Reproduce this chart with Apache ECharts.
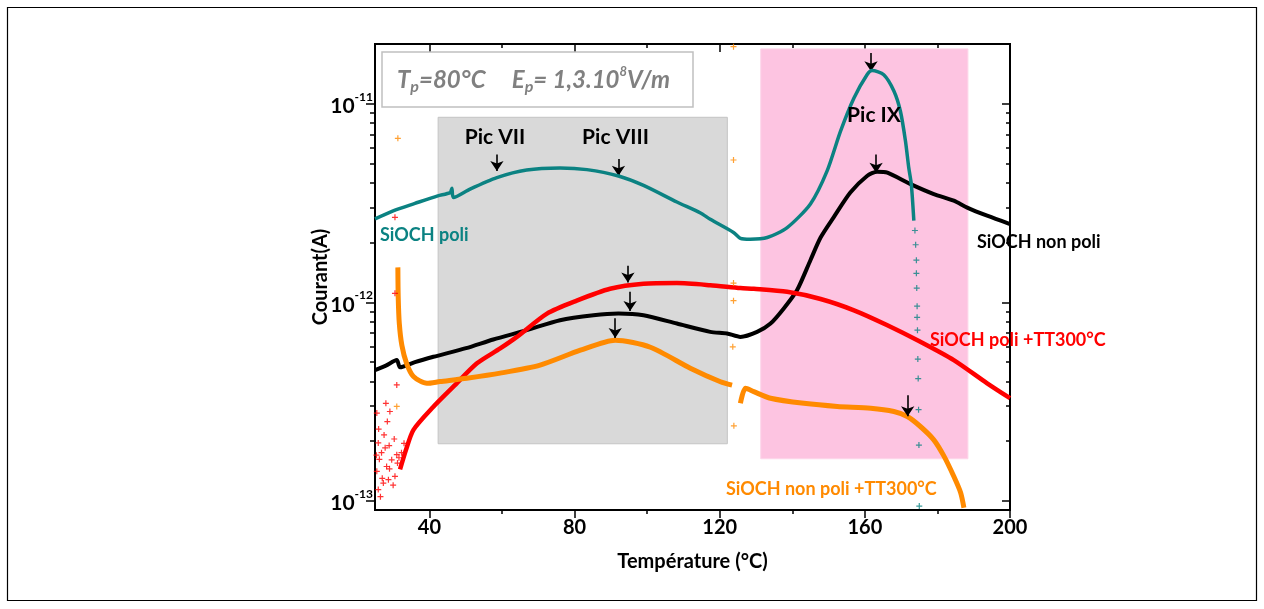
<!DOCTYPE html>
<html><head><meta charset="utf-8">
<script src="https://cdn.jsdelivr.net/npm/echarts@6/dist/echarts.min.js"></script>
<style>html,body{margin:0;padding:0;background:#fff}#c{width:1264px;height:609px}</style>
</head><body><div id="c"></div>
<script>
// ---------- axis ticks ----------
const xTickLabels = [40, 80, 120, 160, 200];
const xMinorTicks = [60, 100, 140, 180];
const yTickValues = [1e-13, 1e-12, 1e-11];
const yMinorTicks = [2e-13,3e-13,4e-13,5e-13,6e-13,7e-13,8e-13,9e-13,2e-12,3e-12,4e-12,5e-12,6e-12,7e-12,8e-12,9e-12];
const xMin = 25, xMax = 200, yMin = 9e-14, yMax = 2e-11;

// ---------- SiOCH poli (teal) ----------
const poliT = [25, 30.0, 36, 42.3, 45.7, 46.2, 46.6, 51.2, 58.6, 66.8, 76.0, 83.4, 92.1, 99.0, 108.2, 114.7, 117.4, 123.8, 125.7, 128.4, 133.1, 138.6, 145.0, 149.6, 153.3, 157.0, 160.6, 162.0, 165.2, 168.0, 169.8, 171.2, 172.1, 172.8, 173.5];
const poliI = [2.63e-12, 2.89e-12, 3.15e-12, 3.44e-12, 3.57e-12, 3.76e-12, 3.37e-12, 3.72e-12, 4.25e-12, 4.64e-12, 4.75e-12, 4.66e-12, 4.33e-12, 3.88e-12, 3.20e-12, 2.82e-12, 2.62e-12, 2.25e-12, 2.10e-12, 2.08e-12, 2.12e-12, 2.38e-12, 3.13e-12, 4.59e-12, 7.28e-12, 1.07e-11, 1.40e-11, 1.47e-11, 1.40e-11, 1.16e-11, 9.17e-12, 6.48e-12, 4.76e-12, 3.94e-12, 2.58e-12];
const poliTailT = [173.8, 174.0, 174.2, 174.2, 174.3, 174.4, 174.4, 174.5, 174.6, 174.7, 174.8, 174.9, 175.0];
const poliTailI = [2.3e-12, 1.95e-12, 1.63e-12, 1.40e-12, 1.18e-12, 9.57e-13, 8.41e-13, 7.24e-13, 5.18e-13, 4.13e-13, 2.88e-13, 1.91e-13, 9.42e-14];

// ---------- SiOCH non poli (black) ----------
const nonPoliT = [25, 28, 31.0, 31.9, 36, 41.1, 50.1, 57.6, 66.8, 76.0, 85.2, 92.1, 99.0, 108.2, 117.4, 122.0, 125.7, 130.3, 134.0, 137.6, 141.3, 145.0, 147.8, 151.4, 156.0, 160.6, 163.4, 166.2, 172.6, 179.0, 184.5, 188.2, 193.7, 200];
const nonPoliI = [4.56e-13, 4.8e-13, 5.12e-13, 4.71e-13, 5.0e-13, 5.32e-13, 5.88e-13, 6.50e-13, 7.24e-13, 8.13e-13, 8.61e-13, 8.78e-13, 8.61e-13, 7.82e-13, 7.10e-13, 6.97e-13, 6.70e-13, 7.10e-13, 7.82e-13, 9.29e-13, 1.15e-12, 1.63e-12, 2.12e-12, 2.68e-12, 3.57e-12, 4.33e-12, 4.55e-12, 4.50e-12, 3.94e-12, 3.51e-12, 3.25e-12, 3.00e-12, 2.73e-12, 2.48e-12];

// ---------- SiOCH poli +TT300°C (red) ----------
const poliTTT = [31.9, 33.5, 35.6, 41.1, 46.6, 53.1, 59.5, 64.1, 72.4, 80.6, 89.8, 99.0, 108.2, 117.4, 125.7, 129.4, 138.6, 147.8, 157.0, 166.2, 175.3, 184.5, 193.7, 200];
const poliTTI = [1.44e-13, 1.8e-13, 2.28e-13, 2.98e-13, 3.76e-13, 4.93e-13, 5.86e-13, 6.70e-13, 8.78e-13, 1.02e-12, 1.17e-12, 1.24e-12, 1.25e-12, 1.22e-12, 1.18e-12, 1.17e-12, 1.13e-12, 1.04e-12, 9.12e-13, 7.67e-13, 6.33e-13, 5.12e-13, 3.91e-13, 3.29e-13];
const poliTTScatT = [25.9, 26.8, 25.5, 27.3, 25.9, 28.2, 29.6, 31.0, 30.5, 28.7, 25.5, 28.0, 29.1, 30.5, 31.0, 28.4, 30.5, 26.2, 27.0, 27.8, 29.0, 30.0, 31.2, 25.4, 26.5, 28.9, 30.3, 31.6, 32.3, 33.0, 26.0, 27.5];
const poliTTScatI = [1.96e-13, 1.75e-13, 1.41e-13, 1.23e-13, 1.14e-13, 1.49e-13, 1.61e-13, 1.71e-13, 1.33e-13, 1.28e-13, 2.77e-13, 3.10e-13, 2.82e-13, 1.11e-12, 3.84e-13, 2.51e-13, 2.68e-12, 1.62e-13, 1.30e-13, 1.85e-13, 1.45e-13, 1.20e-13, 1.55e-13, 1.70e-13, 1.05e-13, 1.90e-13, 2.05e-13, 1.65e-13, 1.75e-13, 1.95e-13, 2.30e-13, 2.15e-13];

// ---------- SiOCH non poli +TT300°C (orange) ----------
const nonPoliTTAT = [31.3, 31.4, 31.7, 32.4, 33.7, 35.6, 39.3, 42.9, 50.3, 59.5, 70.5, 81.6, 91.2, 100.9, 111.9, 120.2, 123.4];
const nonPoliTTAI = [1.50e-12, 1.06e-12, 7.82e-13, 6.08e-13, 4.93e-13, 4.23e-13, 3.91e-13, 3.99e-13, 4.15e-13, 4.40e-13, 4.83e-13, 5.74e-13, 6.45e-13, 5.94e-13, 4.66e-13, 3.98e-13, 3.83e-13];
const nonPoliTTBT = [125.7, 127.1, 129.4, 134.0, 143.2, 152.4, 161.6, 168.0, 171.7, 175.3, 179.0, 181.8, 184.5, 186.4, 187.3];
const nonPoliTTBI = [3.10e-13, 3.69e-13, 3.55e-13, 3.29e-13, 3.10e-13, 2.99e-13, 2.93e-13, 2.82e-13, 2.66e-13, 2.37e-13, 2.03e-13, 1.68e-13, 1.33e-13, 1.10e-13, 9.24e-14];
const nonPoliTTScatT = [31.3, 31.0, 123.8, 123.8, 123.8, 123.8, 123.6, 123.9];
const nonPoliTTScatI = [6.70e-12, 2.99e-13, 1.94e-11, 5.21e-12, 1.25e-12, 1.02e-12, 5.97e-13, 2.39e-13];

// ---------- shaded zones: [Tmin, Tmax, Imin, Imax] ----------
const grayZone = [42.4, 122.1, 1.94e-13, 8.55e-12];
const pinkZone = [131.3, 188.4, 1.63e-13, 1.89e-11];

// ---------- peak arrows: [T, Itop, Ibottom] ----------
const arrowT = [58.6, 92.1, 161.7, 163.1, 94.7, 95.3, 91.2, 171.8];
const arrowTop = [5.56e-12, 5.27e-12, 1.80e-11, 5.56e-12, 1.53e-12, 1.13e-12, 8.32e-13, 3.41e-13];
const arrowBot = [4.59e-12, 4.34e-12, 1.46e-11, 4.49e-12, 1.26e-12, 9.04e-13, 6.61e-13, 2.67e-13];

// ---------- build ----------
const L = v => Math.log10(v);
const pts = (T, I) => T.map((t, i) => [t, L(I[i])]);
const FONT = 'Lato';
const TEAL = '#0b8282', RED = '#ff0000', ORANGE = '#ff8a00';
const plus = 'path://M4,0h2v4h4v2h-4v4h-2v-4h-4v-2h4z';
const SM = 0.25;

const chart = echarts.init(document.getElementById('c'), null, {renderer: 'canvas'});

const baseX = {type: 'value', min: xMin, max: xMax, splitLine: {show: false}, nameMoveOverlap: false, axisLine: {onZero: false, lineStyle: {color: '#000', width: 2}}};
const baseY = {type: 'value', min: L(yMin), max: L(yMax), splitLine: {show: false}, nameMoveOverlap: false, axisLine: {onZero: false, lineStyle: {color: '#000', width: 2}}};

const option = {
  animation: false,
  backgroundColor: '#fff',
  grid: {left: 375, top: 44, width: 635, height: 466, containLabel: false, outerBoundsMode: 'none'},
  xAxis: [
    Object.assign({}, baseX, {position: 'bottom',
      name: 'Température (°C)', nameLocation: 'middle', nameGap: 42,
      nameTextStyle: {fontFamily: FONT, fontSize: 20, fontWeight: 'bold', color: '#000'},
      axisTick: {customValues: xTickLabels, length: 8, lineStyle: {color: '#000', width: 1.5}},
      axisLabel: {customValues: xTickLabels, margin: 8, fontFamily: FONT, fontSize: 20, fontWeight: 'bold', color: '#000'}}),
    Object.assign({}, baseX, {position: 'bottom',
      axisTick: {customValues: xMinorTicks, length: 4, lineStyle: {color: '#000', width: 1.5}},
      axisLabel: {show: false}}),
    Object.assign({}, baseX, {position: 'top',
      axisTick: {customValues: xTickLabels, length: 8, inside: true, lineStyle: {color: '#000', width: 1.5}},
      axisLabel: {show: false}}),
    Object.assign({}, baseX, {position: 'top',
      axisTick: {customValues: xMinorTicks, length: 4, inside: true, lineStyle: {color: '#000', width: 1.5}},
      axisLabel: {show: false}})
  ],
  yAxis: [
    Object.assign({}, baseY, {position: 'left',
      name: 'Courant(A)', nameLocation: 'middle', nameGap: 44, nameRotate: 90,
      nameTextStyle: {fontFamily: FONT, fontSize: 20, fontWeight: 'bold', color: '#000'},
      axisTick: {customValues: yTickValues.map(L), length: 9, lineStyle: {color: '#000', width: 1.5}},
      axisLabel: {customValues: yTickValues.map(L), margin: 2,
        formatter: v => '{b|10}{s|' + Math.round(v) + '}',
        rich: {
          b: {fontFamily: FONT, fontSize: 21, fontWeight: 'bold', color: '#000', lineHeight: 26, verticalAlign: 'bottom'},
          s: {fontFamily: FONT, fontSize: 12, fontWeight: 'bold', color: '#000', lineHeight: 14, verticalAlign: 'top'}
        }}}),
    Object.assign({}, baseY, {position: 'left',
      axisTick: {customValues: yMinorTicks.map(L), length: 5, lineStyle: {color: '#000', width: 1.5}},
      axisLabel: {show: false}}),
    Object.assign({}, baseY, {position: 'right',
      axisTick: {customValues: yTickValues.map(L), length: 8, inside: true, lineStyle: {color: '#000', width: 1.5}},
      axisLabel: {show: false}}),
    Object.assign({}, baseY, {position: 'right',
      axisTick: {customValues: yMinorTicks.map(L), length: 4, inside: true, lineStyle: {color: '#000', width: 1.5}},
      axisLabel: {show: false}})
  ],
  series: [
    {type: 'line', name: 'zones', data: [], z: 1, silent: true,
      markArea: {silent: true, data: [
        [{coord: [grayZone[0], L(grayZone[3])], itemStyle: {color: '#d9d9d9', borderColor: '#c4c4c4', borderWidth: 1}},
         {coord: [grayZone[1], L(grayZone[2])]}],
        [{coord: [pinkZone[0], L(pinkZone[3])], itemStyle: {color: '#fdc4e1', borderColor: '#fdd6ea', borderWidth: 1}},
         {coord: [pinkZone[1], L(pinkZone[2])]}]
      ]}},
    {type: 'line', name: 'SiOCH poli', data: pts(poliT, poliI), showSymbol: false, smooth: SM, z: 5,
      lineStyle: {color: TEAL, width: 3.5}},
    {type: 'scatter', name: 'SiOCH poli tail', data: pts(poliTailT, poliTailI), symbol: plus, symbolSize: 6, z: 5,
      itemStyle: {color: TEAL}},
    {type: 'line', name: 'SiOCH non poli', data: pts(nonPoliT, nonPoliI), showSymbol: false, smooth: SM, z: 4,
      lineStyle: {color: '#000', width: 4}},
    {type: 'line', name: 'SiOCH poli +TT300°C', data: pts(poliTTT, poliTTI), showSymbol: false, smooth: SM, z: 4,
      lineStyle: {color: RED, width: 4.5}},
    {type: 'scatter', name: 'red scatter', data: pts(poliTTScatT, poliTTScatI), symbol: plus, symbolSize: 6, z: 4,
      itemStyle: {color: RED}},
    {type: 'line', name: 'SiOCH non poli +TT300°C', data: pts(nonPoliTTAT, nonPoliTTAI), showSymbol: false, smooth: SM, z: 4,
      lineStyle: {color: ORANGE, width: 5}},
    {type: 'line', name: 'SiOCH non poli +TT300°C b', data: pts(nonPoliTTBT, nonPoliTTBI), showSymbol: false, smooth: SM, z: 4,
      lineStyle: {color: ORANGE, width: 5}},
    {type: 'scatter', name: 'orange scatter', data: pts(nonPoliTTScatT, nonPoliTTScatI), symbol: plus, symbolSize: 6, z: 4,
      itemStyle: {color: ORANGE}},
    {type: 'line', name: 'arrows', data: [], z: 6, silent: true,
      markLine: {silent: true, symbol: ['none', 'arrow'], symbolSize: 10, label: {show: false},
        lineStyle: {color: '#000', width: 1.6, type: 'solid'},
        emphasis: {disabled: true},
        data: arrowT.map((t, i) => [{coord: [t, L(arrowTop[i])]}, {coord: [t, L(arrowBot[i])]}])}}
  ],
  graphic: [
    {type: 'rect', shape: {x: 7.5, y: 7.5, width: 1249, height: 593}, style: {fill: 'none', stroke: '#000', lineWidth: 1.2}, silent: true, z: 100},
    {type: 'rect', shape: {x: 382, y: 52, width: 311, height: 55}, style: {fill: '#fff', stroke: '#c0c0c0', lineWidth: 1.5}, z: 50},
    {type: 'text', x: 397, y: 65, z: 51, style: {
      text: '{m|T}{sub|p}{m|=80°C     E}{sub|p}{m|= 1,3.10}{sup|8}{m|V/m}',
      textAlign: 'left', textVerticalAlign: 'top', fill: '#808080',
      rich: {
        m: {fontFamily: FONT, fontSize: 24, fontWeight: 'bold', fontStyle: 'italic', fill: '#808080', lineHeight: 30},
        sub: {fontFamily: FONT, fontSize: 16, fontWeight: 'bold', fontStyle: 'italic', fill: '#808080', lineHeight: 10, verticalAlign: 'bottom'},
        sup: {fontFamily: FONT, fontSize: 13, fontWeight: 'bold', fontStyle: 'italic', fill: '#808080', lineHeight: 10, verticalAlign: 'top'}
      }}},
    {type: 'text', x: 495, y: 137.5, z: 60, style: {text: 'Pic VII', font: 'bold 21px Lato', fill: '#000', textAlign: 'center', textVerticalAlign: 'middle'}},
    {type: 'text', x: 615.5, y: 137.5, z: 60, style: {text: 'Pic VIII', font: 'bold 21px Lato', fill: '#000', textAlign: 'center', textVerticalAlign: 'middle'}},
    {type: 'text', x: 874, y: 115, z: 60, style: {text: 'Pic IX', font: 'bold 21px Lato', fill: '#000', textAlign: 'center', textVerticalAlign: 'middle'}},
    {type: 'text', x: 380, y: 235, z: 60, style: {text: 'SiOCH poli', font: 'bold 18px Lato', fill: TEAL, textAlign: 'left', textVerticalAlign: 'middle'}},
    {type: 'text', x: 977, y: 242, z: 60, style: {text: 'SiOCH non poli', font: 'bold 18px Lato', fill: '#000', textAlign: 'left', textVerticalAlign: 'middle'}},
    {type: 'text', x: 930, y: 340, z: 60, style: {text: 'SiOCH poli +TT300°C', font: 'bold 18px Lato', fill: RED, textAlign: 'left', textVerticalAlign: 'middle'}},
    {type: 'text', x: 726, y: 489, z: 60, style: {text: 'SiOCH non poli +TT300°C', font: 'bold 18px Lato', fill: ORANGE, textAlign: 'left', textVerticalAlign: 'middle'}}
  ]
};
chart.setOption(option);
</script>
</body></html>
